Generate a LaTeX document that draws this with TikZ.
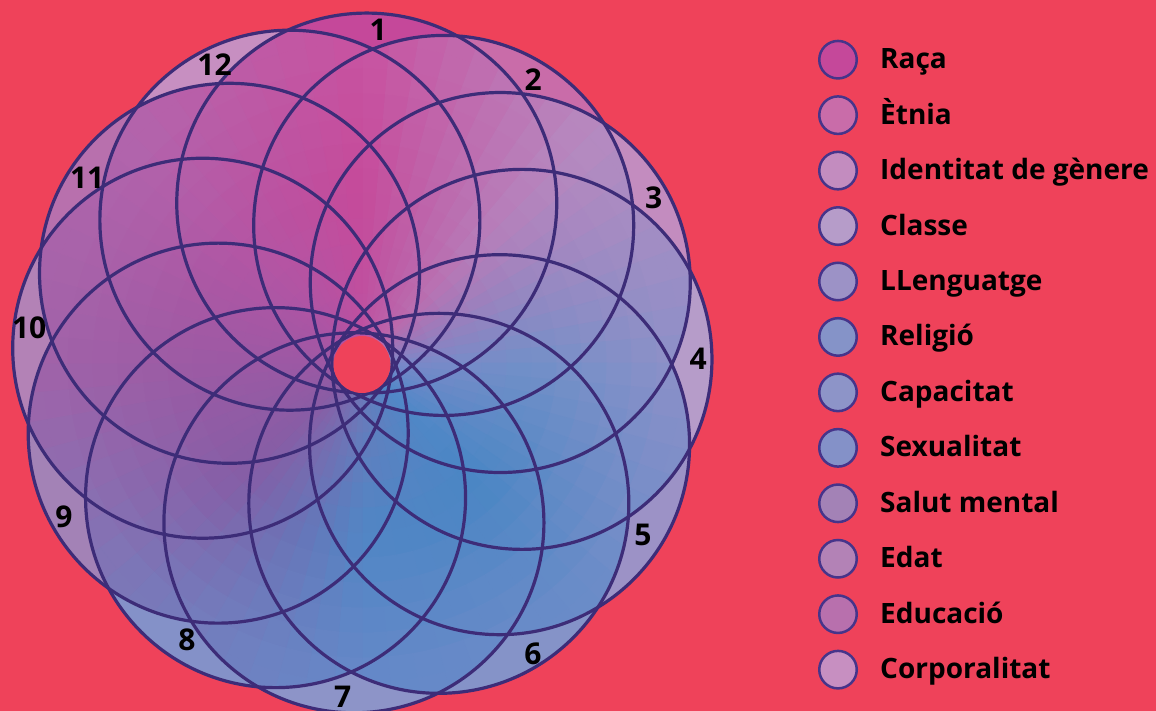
\documentclass[tikz,border=0pt]{standalone}
\usepackage{fontspec}
\setmainfont{Open Sans}
\definecolor{bgred}{HTML}{EF425A}
\definecolor{edge}{HTML}{3D2C78}
\definecolor{legedge}{HTML}{46348A}
\definecolor{L1}{HTML}{C5489A}
\definecolor{L2}{HTML}{C96CA9}
\definecolor{L3}{HTML}{C38CBF}
\definecolor{L4}{HTML}{B69CC9}
\definecolor{L5}{HTML}{9C92C6}
\definecolor{L6}{HTML}{8593C8}
\definecolor{L7}{HTML}{8D94C8}
\definecolor{L8}{HTML}{8491C8}
\definecolor{L9}{HTML}{A382B6}
\definecolor{L10}{HTML}{B382B6}
\definecolor{L11}{HTML}{B870AD}
\definecolor{L12}{HTML}{C78FC1}
% interior colour field: keys at screen angles -90,-45,0,45,90,135,180,225
\definecolor{In0}{HTML}{BE50A0}
\definecolor{In1}{HTML}{BA68AC}
\definecolor{In2}{HTML}{7C88C8}
\definecolor{In3}{HTML}{5088C8}
\definecolor{In4}{HTML}{6A7ABA}
\definecolor{In5}{HTML}{8A5CA4}
\definecolor{In6}{HTML}{9C58A4}
\definecolor{In7}{HTML}{AC54A4}
\definecolor{Mi0}{HTML}{C64A9A}
\definecolor{Mi1}{HTML}{B67EBA}
\definecolor{Mi2}{HTML}{7290C8}
\definecolor{Mi3}{HTML}{4A86C4}
\definecolor{Mi4}{HTML}{5086C5}
\definecolor{Mi5}{HTML}{845EA6}
\definecolor{Mi6}{HTML}{9C5AA4}
\definecolor{Mi7}{HTML}{B456A4}
\definecolor{Ou0}{HTML}{C852A0}
\definecolor{Ou1}{HTML}{B68AC0}
\definecolor{Ou2}{HTML}{8C90C8}
\definecolor{Ou3}{HTML}{6A8CC8}
\definecolor{Ou4}{HTML}{6488C8}
\definecolor{Ou5}{HTML}{7A78B8}
\definecolor{Ou6}{HTML}{A062A8}
\definecolor{Ou7}{HTML}{B264AC}
\def\angs{-88.3,-59.3,-30.2,-1.3,30.7,61.3,92.9,122.7,154,185.3,214.1,243.2}
\begin{document}
\begin{tikzpicture}[x=1pt,y=-1pt,
  ring/.style={draw=edge, line width=3.2pt},
  legcirc/.style={draw=legedge, line width=2.5pt},
  num/.style={font=\fontsize{30}{34}\selectfont\bfseries, text=black, inner sep=0pt},
  legtext/.style={font=\fontsize{28}{32}\selectfont\bfseries, text=black, inner sep=0pt, anchor=base west}]
\fill[bgred] (0,0) rectangle (1156,711);
\useasboundingbox (0,0) rectangle (1156,711);
\begin{scope}[shift={(362,363)}]
  % interior colour field, clipped to the union of the circles
  \begin{scope}
    \clip \foreach \a in \angs {(\a:160) circle[radius=190]};
    \foreach \wi in {0,...,71} {
      \pgfmathsetmacro\aone{-90+5*\wi}
      \pgfmathsetmacro\atwo{-85+5*\wi}
      \pgfmathtruncatemacro\ks{floor((5*\wi+2.5)/45)}
      \pgfmathtruncatemacro\kn{mod(\ks+1,8)}
      \pgfmathtruncatemacro\kp{round(((5*\wi+2.5)-45*\ks)*100/45)}
      \colorlet{ci}{In\kn!\kp!In\ks}
      \colorlet{cm}{Mi\kn!\kp!Mi\ks}
      \colorlet{co}{Ou\kn!\kp!Ou\ks}
      \foreach \rj in {0,...,13} {
        \pgfmathsetmacro\rone{20+25*\rj}
        \pgfmathsetmacro\rtwo{45+25*\rj}
        \pgfmathsetmacro\rmid{32.5+25*\rj}
        \ifdim\rmid pt<40pt \colorlet{cc}{ci}\else
          \ifdim\rmid pt<170pt \pgfmathtruncatemacro\kq{round((\rmid-40)*100/130)}\colorlet{cc}{cm!\kq!ci}\else
            \ifdim\rmid pt<310pt \pgfmathtruncatemacro\kq{round((\rmid-170)*100/140)}\colorlet{cc}{co!\kq!cm}\else
              \colorlet{cc}{co}\fi\fi\fi
        \fill[cc, draw=cc, line width=1pt] (\aone:\rone) -- (\aone:\rtwo)
          arc[start angle=\aone, end angle=\atwo, radius=\rtwo] -- (\atwo:\rone)
          arc[start angle=\atwo, end angle=\aone, radius=\rone] -- cycle;
      }
    }
  \end{scope}
  % outer crescents, each covered by one circle only
  \foreach \a/\ap/\an/\col in {-88.3/-116.8/-59.3/L1, -59.3/-88.3/-30.2/L2,
      -30.2/-59.3/-1.3/L3, -1.3/-30.2/30.7/L4, 30.7/-1.3/61.3/L5,
      61.3/30.7/92.9/L6, 92.9/61.3/122.7/L7, 122.7/92.9/154/L8,
      154/122.7/185.3/L9, 185.3/154/214.1/L10, 214.1/185.3/243.2/L11,
      243.2/214.1/271.7/L12} {
    \begin{scope}[even odd rule]
      \clip (-500,-500) rectangle (500,500) (\ap:160) circle[radius=190];
      \clip (-500,-500) rectangle (500,500) (\an:160) circle[radius=190];
      \fill[\col] (\a:160) circle[radius=190];
    \end{scope}
  }
  % outlines
  \foreach \a in \angs {\draw[ring] (\a:160) circle[radius=190];}
  % central hole
  \fill[bgred] (0,1.5) circle[radius=28.5];
\end{scope}
% numbers
\node[num] (lab1) at (378.3,29.9) {1};
\node[num] (lab2) at (533.3,79.2) {2};
\node[num] (lab3) at (653.8,197.5) {3};
\node[num] (lab4) at (698.3,358.7) {4};
\node[num] (lab5) at (643,535) {5};
\node[num] (lab6) at (533,654) {6};
\node[num] (lab7) at (342.8,697) {7};
\node[num] (lab8) at (187,640) {8};
\node[num] (lab9) at (64,517) {9};
\node[num] (lab10) at (29.2,327.5) {10};
\node[num] (lab11) at (87.2,177.5) {11};
\node[num] (lab12) at (214.5,64.5) {12};
% legend
\foreach \i/\nm/\col in {1/Raça/L1, 2/Ètnia/L2, 3/Identitat de gènere/L3,
    4/Classe/L4, 5/LLenguatge/L5, 6/Religió/L6, 7/Capacitat/L7,
    8/Sexualitat/L8, 9/Salut mental/L9, 10/Edat/L10, 11/Educació/L11,
    12/Corporalitat/L12} {
  \pgfmathsetmacro\yy{59.7+55.45*(\i-1)}
  \draw[legcirc, fill=\col] (838,\yy) circle[radius=18.75];
  \node[legtext] (leg\i) at (880,\yy+9) {\nm};
}
\end{tikzpicture}
\end{document}
